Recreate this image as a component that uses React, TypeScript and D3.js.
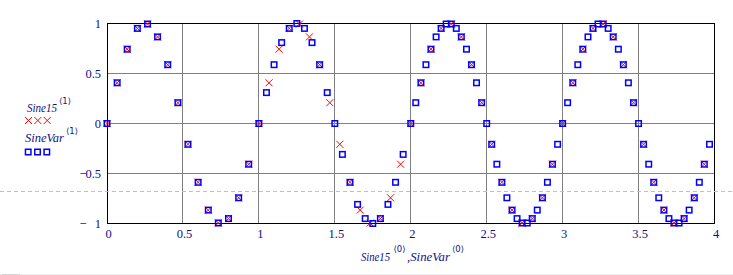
import React from "react";
import * as d3 from "d3";

const sine15X = [
  0, 0.067, 0.133, 0.2, 0.267, 0.333, 0.4, 0.467, 0.533, 0.6, 0.667, 0.733, 0.8, 0.867, 0.933,
  1, 1.067, 1.133, 1.2, 1.267, 1.333, 1.4, 1.467, 1.533, 1.6, 1.667, 1.733, 1.8, 1.867, 1.933,
  2, 2.067, 2.133, 2.2, 2.267, 2.333, 2.4, 2.467, 2.533, 2.6, 2.667, 2.733, 2.8, 2.867, 2.933,
  3, 3.067, 3.133, 3.2, 3.267, 3.333, 3.4, 3.467, 3.533, 3.6, 3.667, 3.733, 3.8, 3.867, 3.933,
];
const sine15Y = [
  0, 0.407, 0.743, 0.951, 0.995, 0.866, 0.588, 0.208, -0.208, -0.588, -0.866, -0.995, -0.951, -0.743, -0.407,
  0, 0.407, 0.743, 0.951, 0.995, 0.866, 0.588, 0.208, -0.208, -0.588, -0.866, -0.995, -0.951, -0.743, -0.407,
  0, 0.407, 0.743, 0.951, 0.995, 0.866, 0.588, 0.208, -0.208, -0.588, -0.866, -0.995, -0.951, -0.743, -0.407,
  0, 0.407, 0.743, 0.951, 0.995, 0.866, 0.588, 0.208, -0.208, -0.588, -0.866, -0.995, -0.951, -0.743, -0.407,
];

const sineVarX = [
  0, 0.067, 0.133, 0.2, 0.267, 0.333, 0.4, 0.467, 0.533, 0.6, 0.667, 0.733, 0.8, 0.867, 0.933,
  1, 1.05, 1.1, 1.15, 1.2, 1.25, 1.3, 1.35, 1.4, 1.45, 1.5, 1.55, 1.6, 1.65, 1.7, 1.75, 1.8, 1.85, 1.9, 1.95,
  2, 2.033, 2.067, 2.1, 2.133, 2.167, 2.2, 2.233, 2.267, 2.3, 2.333, 2.367, 2.4, 2.433, 2.467,
  2.5, 2.533, 2.567, 2.6, 2.633, 2.667, 2.7, 2.733, 2.767, 2.8, 2.833, 2.867, 2.9, 2.933, 2.967,
  3, 3.033, 3.067, 3.1, 3.133, 3.167, 3.2, 3.233, 3.267, 3.3, 3.333, 3.367, 3.4, 3.433, 3.467,
  3.5, 3.533, 3.567, 3.6, 3.633, 3.667, 3.7, 3.733, 3.767, 3.8, 3.833, 3.867, 3.9, 3.933, 3.967,
];
const sineVarY = [
  0, 0.407, 0.743, 0.951, 0.995, 0.866, 0.588, 0.208, -0.208, -0.588, -0.866, -0.995, -0.951, -0.743, -0.407,
  0, 0.309, 0.588, 0.809, 0.951, 1, 0.951, 0.809, 0.588, 0.309, 0, -0.309, -0.588, -0.809, -0.951, -1, -0.951, -0.809, -0.588, -0.309,
  0, 0.208, 0.407, 0.588, 0.743, 0.866, 0.951, 0.995, 0.995, 0.951, 0.866, 0.743, 0.588, 0.407, 0.208,
  0, -0.208, -0.407, -0.588, -0.743, -0.866, -0.951, -0.995, -0.995, -0.951, -0.866, -0.743, -0.588, -0.407, -0.208,
  0, 0.208, 0.407, 0.588, 0.743, 0.866, 0.951, 0.995, 0.995, 0.951, 0.866, 0.743, 0.588, 0.407, 0.208,
  0, -0.208, -0.407, -0.588, -0.743, -0.866, -0.951, -0.995, -0.995, -0.951, -0.866, -0.743, -0.588, -0.407, -0.208,
];

const xTicks = [0, 0.5, 1, 1.5, 2, 2.5, 3, 3.5, 4];
const xTickLabels = ["0", "0.5", "1", "1.5", "2", "2.5", "3", "3.5", "4"];
const yTicks = [1, 0.5, 0, -0.5, -1];
const yTickLabels = ["1", "0.5", "0", "-0.5", "-1"];

const W = 733;
const H = 275;
const NAVY = "#101088";
const SERIF = "'Liberation Serif', 'DejaVu Serif', serif";
const BRACKET = "'DejaVu Sans', sans-serif";

export default function App() {
  const x = d3.scaleLinear().domain([0, 4]).range([107, 714.5]);
  const y = d3.scaleLinear().domain([-1, 1]).range([223.5, 23.5]);
  const px = (v: number) => Math.floor(x(v)) + 0.5;

  const cross = (cx: number, cy: number, r = 3.5) =>
    `M${cx - r},${cy - r}L${cx + r},${cy + r}M${cx - r},${cy + r}L${cx + r},${cy - r}`;

  const crossPath = sine15X.map((v, i) => cross(x(v), y(sine15Y[i]))).join("");

  const serif = { fontFamily: SERIF, fontSize: "12.5px" } as React.CSSProperties;
  const serifIt = { fontFamily: SERIF, fontSize: "12.5px", fontStyle: "italic" } as React.CSSProperties;
  const sup = { fontFamily: BRACKET, fontSize: "8.5px" } as React.CSSProperties;

  return (
    <svg width={W} height={H} style={{ display: "block" }}>
      <style>{`body{margin:0}`}</style>
      <rect x={0} y={0} width={W} height={H} fill="#fff" />

      {/* grid */}
      {xTicks.slice(1, -1).map((t) => (
        <line key={"gx" + t} x1={px(t)} x2={px(t)} y1={y(1)} y2={y(-1)} stroke="#808080" strokeWidth={1} />
      ))}
      {yTicks.slice(1, -1).map((t) => (
        <line key={"gy" + t} x1={x(0)} x2={x(4)} y1={y(t)} y2={y(t)} stroke="#808080" strokeWidth={1} />
      ))}

      {/* frame */}
      <rect x={px(0)} y={y(1)} width={px(4) - px(0)} height={y(-1) - y(1)} fill="none" stroke="#000" strokeWidth={1} />

      {/* Sine15 crosses */}
      <path d={crossPath} stroke="#ff0000" strokeWidth={1} fill="none" />
      {/* SineVar squares */}
      {sineVarX.map((v, i) => (
        <rect
          key={"s" + i}
          x={x(v) - 2.75}
          y={y(sineVarY[i]) - 2.75}
          width={5.5}
          height={5.5}
          fill="none"
          stroke="#0000ff"
          strokeWidth={1.5}
        />
      ))}

      {/* y tick labels */}
      {yTicks.map((t, i) => {
        const lab = yTickLabels[i];
        const neg = lab.startsWith("-");
        return (
          <g key={"yl" + t}>
            {neg && (
              <text x={79.5} y={y(t) + 4.5} style={serif} fill="#000">
                −
              </text>
            )}
            <text x={101} y={y(t) + 4.5} textAnchor="end" style={serif} fill={NAVY}>
              {neg ? lab.slice(1) : lab}
            </text>
          </g>
        );
      })}

      {/* x tick labels */}
      {xTicks.map((t, i) => (
        <text key={"xl" + t} x={x(t) + 1.5} y={237.5} textAnchor="middle" style={serif} fill={NAVY}>
          {xTickLabels[i]}
        </text>
      ))}

      {/* x axis title */}
      <text x={361} y={261} style={serifIt} fill={NAVY} textLength={29} lengthAdjust="spacingAndGlyphs">
        Sine15
      </text>
      <text x={393.5} y={251.5} style={sup} fill={NAVY}>
        ⟨0⟩
      </text>
      <text x={407} y={261} style={serifIt} fill={NAVY} textLength={43} lengthAdjust="spacingAndGlyphs">
        ,SineVar
      </text>
      <text x={452} y={251.5} style={sup} fill={NAVY}>
        ⟨0⟩
      </text>

      {/* legend */}
      <text x={27} y={111.5} style={serifIt} fill={NAVY} textLength={30} lengthAdjust="spacingAndGlyphs">
        Sine15
      </text>
      <text x={59} y={103.5} style={sup} fill={NAVY}>
        ⟨1⟩
      </text>
      <path d={[28.5, 37.8, 47.2].map((cx) => cross(cx, 120.5)).join("")} stroke="#ff0000" strokeWidth={1} fill="none" />
      <text x={25} y={142} style={serifIt} fill={NAVY} textLength={39} lengthAdjust="spacingAndGlyphs">
        SineVar
      </text>
      <text x={66} y={134} style={sup} fill={NAVY}>
        ⟨1⟩
      </text>
      {[28.2, 37.5, 46.8].map((cx) => (
        <rect key={"lg" + cx} x={cx - 2.75} y={152 - 2.75} width={5.5} height={5.5} fill="none" stroke="#0000ff" strokeWidth={1.5} />
      ))}

      {/* page-break dashed line */}
      <line x1={0} x2={W} y1={191.5} y2={191.5} stroke="#c0c0c0" strokeWidth={1} strokeDasharray="4,3" />
      {/* bottom strip */}
      <line x1={0} x2={W} y1={274.5} y2={274.5} stroke="#efefef" strokeWidth={1} />
      <line x1={2} x2={20} y1={274.5} y2={274.5} stroke="#d6d6d6" strokeWidth={1} />
    </svg>
  );
}
